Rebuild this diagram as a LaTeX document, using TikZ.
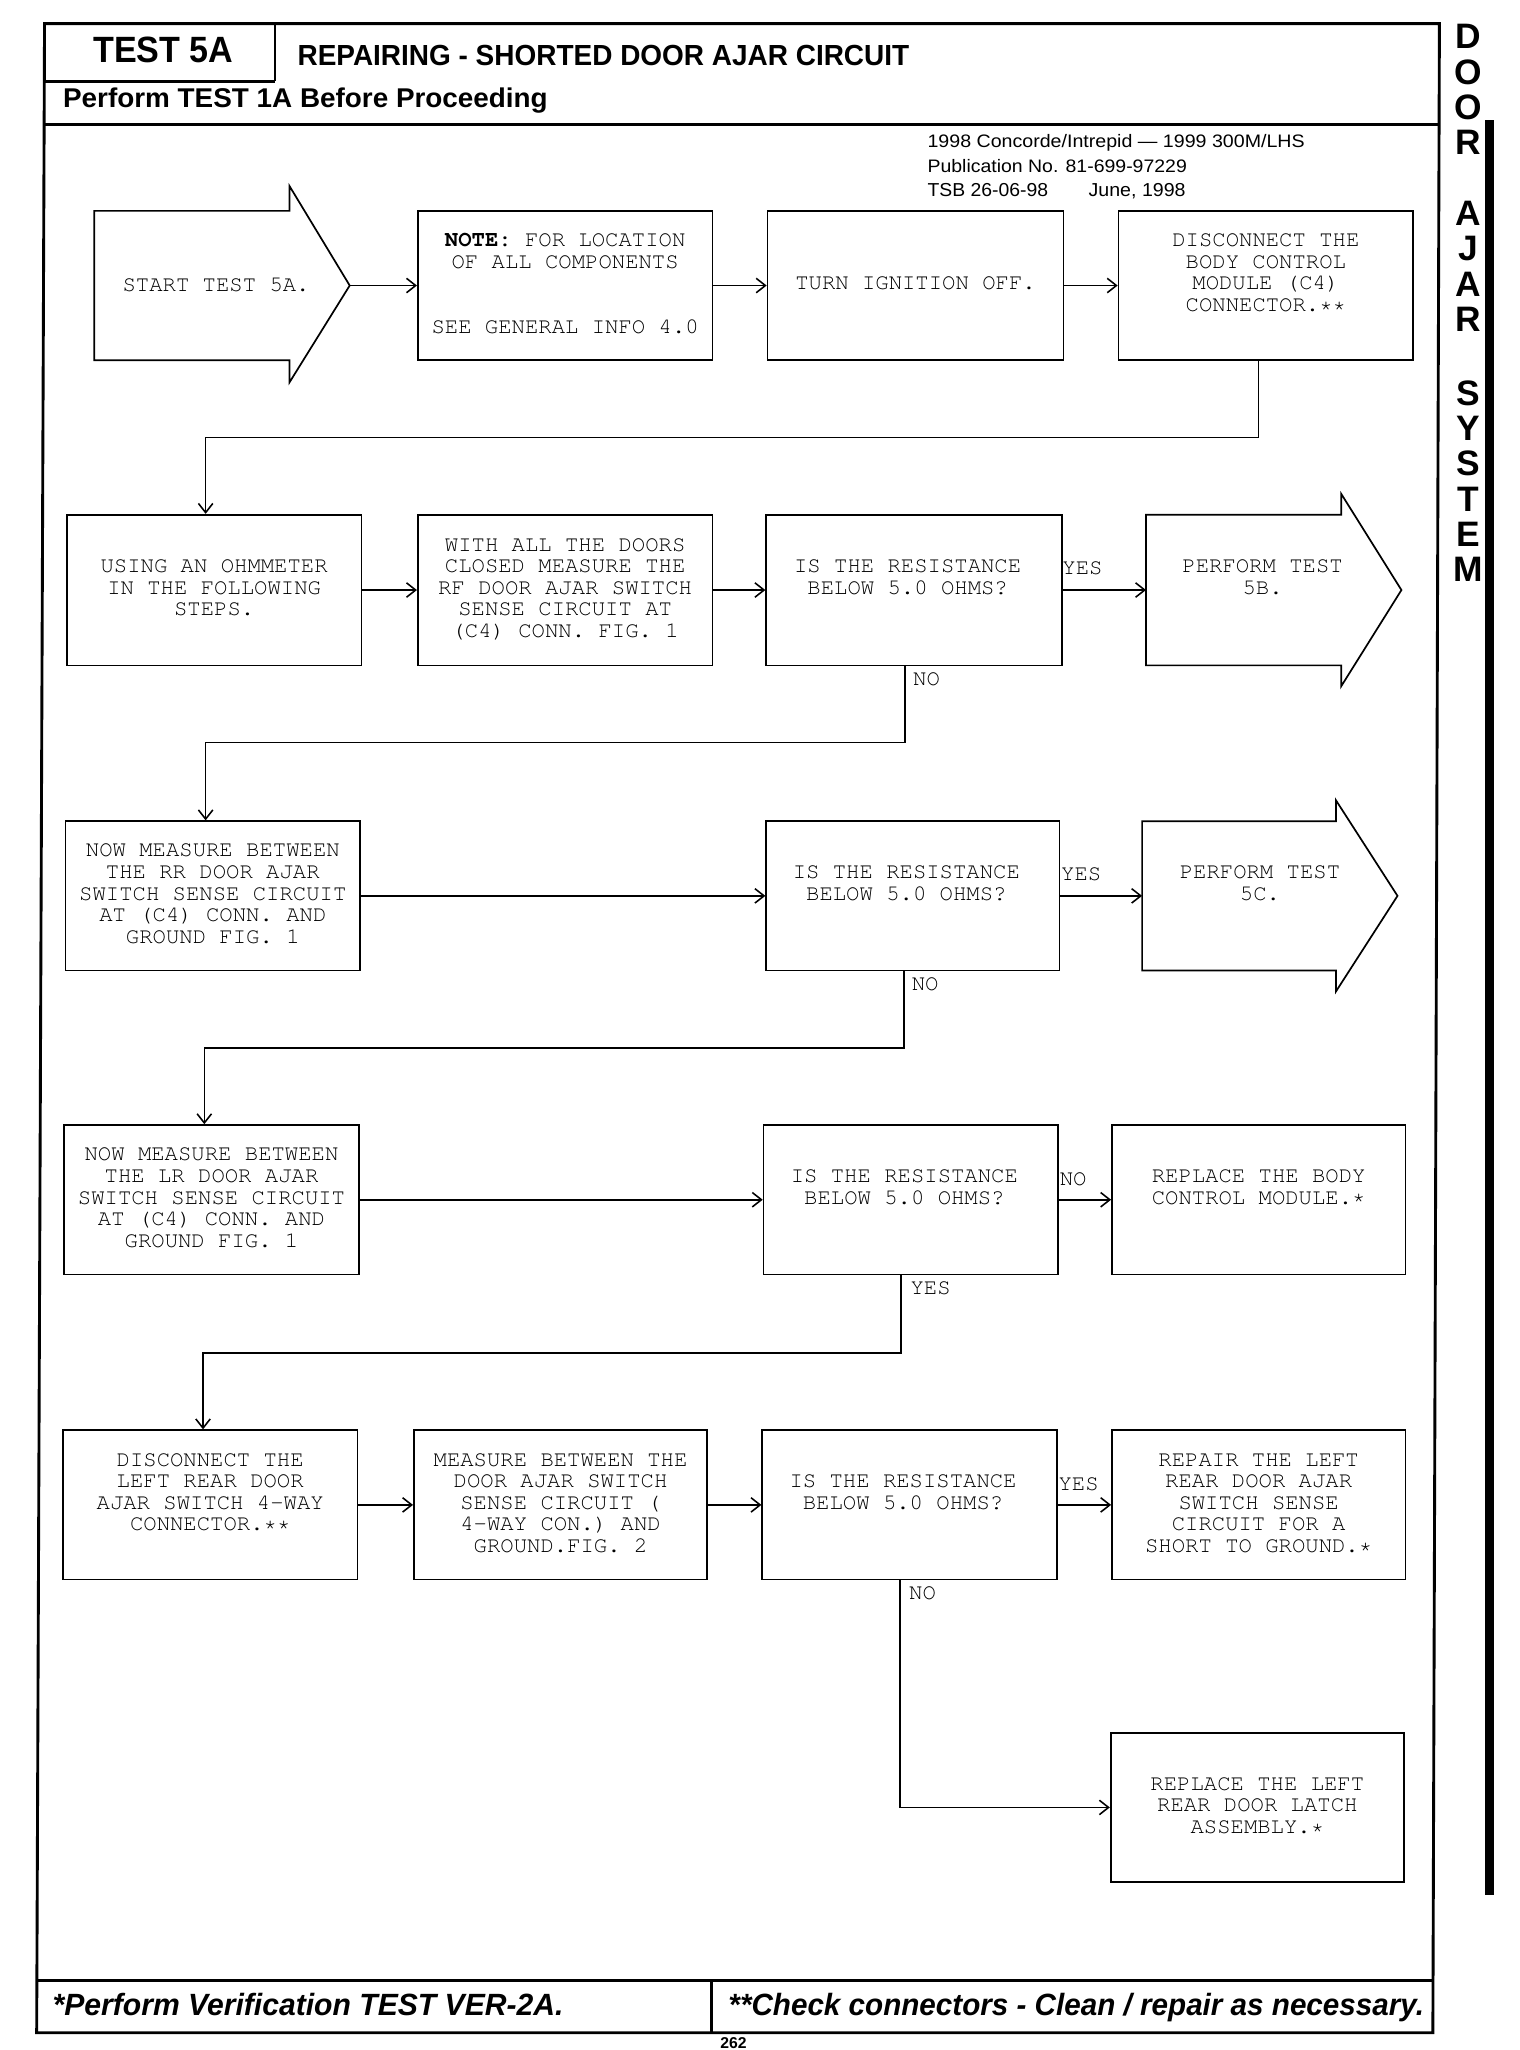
\documentclass[tikz,border=0pt]{standalone}
\usepackage[T1]{fontenc}
\usepackage{fontspec}
\setmainfont{Liberation Sans}
\usetikzlibrary{arrows.meta}
\newcommand{\crf}{\fontencoding{T1}\fontfamily{pcr}\fontsize{17pt}{16.5pt}\selectfont}
\newcommand{\ls}{\strut}
\newcommand{\isrestext}{\ls\\\ls IS THE RESISTANCE\kern10pt\\\ls BELOW 5.0 OHMS?\kern10pt\\\ls\\\ls}
\tikzset{
  box/.style={draw, line width=1.3pt, minimum width=225pt, minimum height=114pt,
    inner sep=0pt, align=center, font=\crf},
  boxtext/.style={inner sep=0pt, align=center, font=\crf},
  shapeline/.style={draw, line width=1.3pt, line join=miter},
  conn/.style={line width=1.2pt, -{Straight Barb[length=7pt,width=11pt]}},
  lbl/.style={inner sep=0pt, font=\crf},
  frame/.style={line width=2.2pt},
  sidel/.style={inner sep=0pt, font=\fontsize{27pt}{27pt}\selectfont\bfseries},
}
\begin{document}
\begin{tikzpicture}[x=1pt, y=-1pt]
\useasboundingbox (0,0) rectangle (1160.4,1565.2);
\fill[white] (0,0) rectangle (1160.4,1565.2);

% page frame
\draw[frame] (34,18) -- (1099,18) -- (1094,1552) -- (28,1552) -- cycle;
\draw[frame] (210,18) -- (210,62);
\draw[frame] (33.7,62) -- (210,62);
\draw[frame] (33.4,95) -- (1098.8,95);
\draw[frame] (28.3,1512) -- (1094.2,1512);
\draw[frame] (543,1512) -- (543,1552);

% header texts
\node[inner sep=0pt, anchor=base west] (hdtest) at (71,48) {\resizebox{107pt}{19.5pt}{\bfseries TEST 5A}};
\node[inner sep=0pt, anchor=base west] (hdtitle) at (227,50) {\resizebox{467pt}{15.5pt}{\bfseries REPAIRING - SHORTED DOOR AJAR CIRCUIT}};
\node[inner sep=0pt, anchor=base west] (hdperf) at (48,82) {\resizebox{370pt}{15pt}{\bfseries Perform TEST 1A Before Proceeding}};
\node[inner sep=0pt, anchor=base west] (pub1) at (708,113) {\resizebox{288pt}{10pt}{1998 Concorde/Intrepid --- 1999 300M/LHS}};
\node[inner sep=0pt, anchor=base west] (pub2) at (708,132) {\resizebox{198pt}{10pt}{Publication No. 81-699-97229}};
\node[inner sep=0pt, anchor=base west] (pub3) at (708,150) {\resizebox{92pt}{10pt}{TSB 26-06-98}};
\node[inner sep=0pt, anchor=base west] (pub4) at (831,150) {\resizebox{74pt}{10pt}{June, 1998}};

% footer texts
\node[inner sep=0pt, anchor=base west] (ft1) at (40,1539) {\resizebox{390pt}{17pt}{\bfseries\itshape *Perform Verification TEST VER-2A.}};
\node[inner sep=0pt, anchor=base west] (ft2) at (556,1539) {\resizebox{531pt}{17pt}{\bfseries\itshape **Check connectors - Clean / repair as necessary.}};
\node[inner sep=0pt, anchor=south] (pageno) at (560,1564) {\fontsize{12pt}{12pt}\selectfont\bfseries 262};

% side title
\foreach \ch/\yy [count=\i] in {D/28,O/55,O/82,R/109,A/163,J/190,A/217,R/244,S/300,Y/327,S/354,T/381,E/408,M/435}
  \node[sidel] (side\i) at (1121,\yy) {\ch};
\fill (1134,92) rectangle (1141,1447);

% ---- row 1
\draw[shapeline] (72,161) -- (221,161) -- (221,142) -- (267,218) -- (221,292) -- (221,275) -- (72,275) -- cycle;
\coordinate (starttip) at (267,218);
\node[boxtext] (start) at (165,218) {START TEST 5A.};
\node[box] (note) at (431.5,218) {\ls\textbf{NOTE:} FOR LOCATION\\\ls OF ALL COMPONENTS\\\ls\\\ls\\\ls SEE GENERAL INFO 4.0};
\node[box, minimum width=226pt] (turn) at (699,218) {\ls\\\ls\\\ls TURN IGNITION OFF.\\\ls\\\ls};
\node[box] (disc) at (966.5,218) {\ls DISCONNECT THE\\\ls BODY CONTROL\\\ls MODULE (C4)\\\ls CONNECTOR.**\\\ls};

% ---- row 2
\node[box, minimum height=115pt] (using) at (163.5,450.5) {\ls\\\ls USING AN OHMMETER\\\ls IN THE FOLLOWING\\\ls STEPS.\\\ls};
\node[box, minimum height=115pt] (with) at (431.5,450.5) {\ls WITH ALL THE DOORS\\\ls CLOSED MEASURE THE\\\ls RF DOOR AJAR SWITCH\\\ls SENSE CIRCUIT AT\\\ls (C4) CONN. FIG. 1};
\node[box, minimum width=226pt, minimum height=115pt] (isres2) at (698,450.5) {\isrestext};
\draw[shapeline] (875,393) -- (1024,393) -- (1024,377) -- (1070,450.5) -- (1024,524) -- (1024,508) -- (875,508) -- cycle;
\coordinate (p5bin) at (875,450.5);
\node[boxtext] (p5b) at (964,450.5) {\ls\\\ls PERFORM TEST\\\ls 5B.\\\ls\\\ls};

% ---- row 3
\node[box] (rr) at (162.5,684) {\ls NOW MEASURE BETWEEN\\\ls THE RR DOOR AJAR\\\ls SWITCH SENSE CIRCUIT\\\ls AT (C4) CONN. AND\\\ls GROUND FIG. 1};
\node[box, minimum width=224pt] (isres3) at (697,684) {\isrestext};
\draw[shapeline] (872,627) -- (1020,627) -- (1020,611) -- (1067,684) -- (1020,757) -- (1020,741) -- (872,741) -- cycle;
\coordinate (p5cin) at (872,684);
\node[boxtext] (p5c) at (962,684) {\ls\\\ls PERFORM TEST\\\ls 5C.\\\ls\\\ls};

% ---- row 4
\node[box] (lr) at (161.5,916) {\ls NOW MEASURE BETWEEN\\\ls THE LR DOOR AJAR\\\ls SWITCH SENSE CIRCUIT\\\ls AT (C4) CONN. AND\\\ls GROUND FIG. 1};
\node[box] (isres4) at (695.5,916) {\isrestext};
\node[box, minimum width=224pt] (bcm) at (961,916) {\ls\\\ls REPLACE THE BODY\\\ls CONTROL MODULE.*\\\ls\\\ls};

% ---- row 5
\node[box] (disc5) at (160.5,1149) {\ls DISCONNECT THE\\\ls LEFT REAR DOOR\\\ls AJAR SWITCH 4-WAY\\\ls CONNECTOR.**\\\ls};
\node[box, minimum width=224pt] (meas) at (428,1149) {\ls MEASURE BETWEEN THE\\\ls DOOR AJAR SWITCH\\\ls SENSE CIRCUIT (\\\ls 4-WAY CON.) AND\\\ls GROUND.FIG. 2};
\node[box] (isres5) at (694.5,1149) {\isrestext};
\node[box, minimum width=224pt] (repair) at (961,1149) {\ls REPAIR THE LEFT\\\ls REAR DOOR AJAR\\\ls SWITCH SENSE\\\ls CIRCUIT FOR A\\\ls SHORT TO GROUND.*};

% ---- row 6
\node[box, minimum width=224pt] (latch) at (960,1380) {\ls\\\ls REPLACE THE LEFT\\\ls REAR DOOR LATCH\\\ls ASSEMBLY.*\\\ls};

% ---- labels
\node[lbl, anchor=west] (yes2) at (811,434) {YES};
\node[lbl, anchor=north west] (no2) at (697,513) {NO};
\node[lbl, anchor=west] (yes3) at (810,667) {YES};
\node[lbl, anchor=north west] (no3) at (696,746) {NO};
\node[lbl, anchor=west] (no4) at (809,900) {NO};
\node[lbl, anchor=north west] (yes4) at (695,978) {YES};
\node[lbl, anchor=west] (yes5) at (808,1133) {YES};
\node[lbl, anchor=north west] (no5) at (694,1211) {NO};

% ---- connectors
\draw[conn] (starttip) -- (note);
\draw[conn] (note) -- (turn);
\draw[conn] (turn) -- (disc);
\draw[conn] (disc.south -| 961,0) -- (961,334) -- (157,334) -- (using.north -| 157,0);
\draw[conn] (using) -- (with);
\draw[conn] (with) -- (isres2);
\draw[conn] (isres2) -- (p5bin);
\draw[conn] (isres2.south -| 691,0) -- (691,567) -- (157,567) -- (rr.north -| 157,0);
\draw[conn] (rr) -- (isres3);
\draw[conn] (isres3) -- (p5cin);
\draw[conn] (isres3.south -| 690,0) -- (690,800) -- (156,800) -- (lr.north -| 156,0);
\draw[conn] (lr) -- (isres4);
\draw[conn] (isres4) -- (bcm);
\draw[conn] (isres4.south -| 688,0) -- (688,1033) -- (155,1033) -- (disc5.north -| 155,0);
\draw[conn] (disc5) -- (meas);
\draw[conn] (meas) -- (isres5);
\draw[conn] (isres5) -- (repair);
\draw[conn] (isres5.south -| 687,0) -- (687,1380) -- (latch.west);
\end{tikzpicture}
\end{document}
